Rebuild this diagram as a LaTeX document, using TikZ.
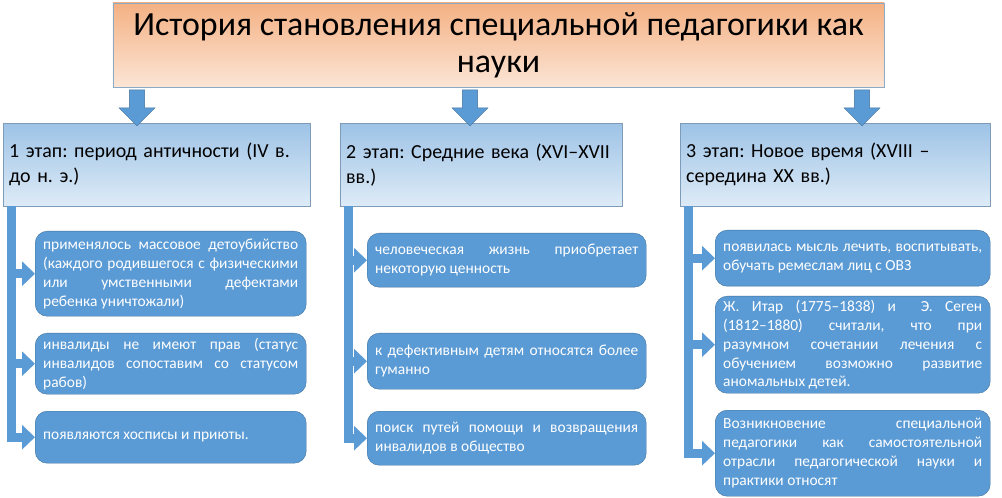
\documentclass[tikz,border=0pt]{standalone}
\usepackage{fontspec}
\setmainfont{Carlito}
\usetikzlibrary{arrows.meta,shapes.arrows,calc}
\definecolor{boxblue}{HTML}{5B9BD5}
\definecolor{edgeblue}{HTML}{41719C}
\definecolor{headtop}{HTML}{9DC3E6}
\definecolor{headbot}{HTML}{DEEBF7}
\definecolor{titletop}{HTML}{F4B183}
\definecolor{titlebot}{HTML}{FBE5D6}
\tikzset{
  titlebox/.style={draw=edgeblue!60, top color=titletop, bottom color=titlebot, align=center,
    minimum width=771bp, minimum height=84bp, font=\fontsize{34}{37}\selectfont, inner sep=0pt},
  headbox/.style={draw=headtop!80!black, top color=headtop, bottom color=headbot, anchor=north west,
    minimum height=83bp, text width=#1, align=left, inner xsep=6bp, font=\fontsize{20}{25}\selectfont},
  itembox/.style={draw=edgeblue, fill=boxblue, rounded corners=12bp, anchor=north west, text=white,
    minimum height=#1, align=justify, font=\fontsize{15.5}{19}\selectfont, inner xsep=8bp},
  itembox/.default=50bp,
  downarrow/.style={draw=edgeblue, fill=boxblue, single arrow, shape border rotate=270,
    minimum height=36bp, minimum width=36bp, single arrow head extend=7bp, inner sep=5bp},
  branch/.style={draw=boxblue, line width=9bp, -{Triangle[width=24bp,length=13bp]}}
}
\begin{document}
\frenchspacing
\begin{tikzpicture}[x=1bp,y=-1bp]
\useasboundingbox (0,0) rectangle (1002,498);
\node[titlebox] (title) at (498.5,45) {История становления специальной педагогики как\\ науки};
% заголовки этапов
\node[headbox=295bp, minimum width=307bp] (h1) at (3,123) {1 этап: период античности (IV в.\\ до н. э.)};
\node[headbox=270bp, minimum width=282bp] (h2) at (340,123) {2 этап: Средние века (XVI–XVII\\ вв.)};
\node[headbox=298bp, minimum width=310bp] (h3) at (680,123) {3 этап: Новое время (XVIII –\\ середина XX вв.)};
\node[downarrow] (a1) at (137,104) {};
\node[downarrow] (a2) at (470,104) {};
\node[downarrow] (a3) at (862,104) {};
% пункты
\begin{scope}[every node/.append style={text width=255bp}]
\node[itembox=85bp] (b11) at (35,231) {применялось массовое детоубийство\linebreak (каждого родившегося с физическими\linebreak или умственными дефектами\linebreak ребенка уничтожали)};
\node[itembox=61bp] (b12) at (35,333) {инвалиды не имеют прав (статус\linebreak инвалидов сопоставим со статусом\linebreak рабов)};
\node[itembox=52bp] (b13) at (35,411) {появляются хосписы и приюты.};
\end{scope}
\begin{scope}[every node/.append style={text width=263bp}]
\node[itembox=54bp] (b21) at (367,233) {человеческая жизнь приобретает\linebreak некоторую ценность};
\node[itembox=56bp] (b22) at (367,333) {к дефективным детям относятся более\linebreak гуманно};
\node[itembox=54bp] (b23) at (367,411) {поиск путей помощи и возвращения\linebreak инвалидов в общество};
\end{scope}
\begin{scope}[every node/.append style={text width=259bp}]
\node[itembox=56bp] (b31) at (715,230) {появилась мысль лечить, воспитывать,\linebreak обучать ремеслам лиц с ОВЗ};
\node[itembox=97bp] (b32) at (715,296) {Ж. Итар (1775–1838) и~ Э. Сеген\linebreak (1812–1880) считали, что при\linebreak разумном сочетании лечения с\linebreak обучением возможно развитие\linebreak аномальных детей.};
\node[itembox=86bp] (b33) at (715,410) {Возникновение специальной\linebreak педагогики как самостоятельной\linebreak отрасли педагогической науки и\linebreak практики относят};
\end{scope}
% связи
\foreach \h in {1,2,3}{
  \foreach \b in {1,2,3}{
    \draw[branch] ($(h\h.south west)+(8,0)$) |- (b\h\b.west);
  }
}
\end{tikzpicture}
\end{document}
